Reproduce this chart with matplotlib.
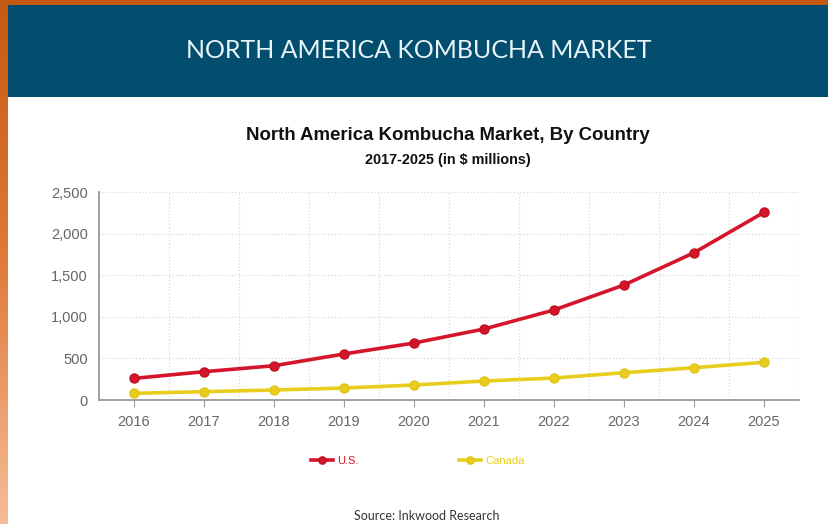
import numpy as np
import matplotlib.pyplot as plt
from matplotlib.ticker import FuncFormatter, MultipleLocator
from matplotlib.colors import LinearSegmentedColormap

years = [2016, 2017, 2018, 2019, 2020, 2021, 2022, 2023, 2024, 2025]
us = [260, 340, 412, 553, 685, 853, 1082, 1382, 1770, 2256]
canada = [80, 100, 120, 144, 180, 228, 264, 328, 388, 453]

W, H = 829, 524
fig = plt.figure(figsize=(W / 100, H / 100), dpi=100)
fig.patch.set_facecolor('white')

# orange frame: strip on top, gradient down the left edge
top = fig.add_axes([0, 1 - 5 / H, 1, 5 / H])
top.set_axis_off()
top.add_patch(plt.Rectangle((0, 0), 1, 1, color='#c45a12', transform=top.transAxes))

side = fig.add_axes([0, 0, 8 / W, 1])
grad = np.linspace(0, 1, 256).reshape(-1, 1)
cm = LinearSegmentedColormap.from_list('edge', ['#f6bd98', '#e07a3a', '#c45a12'])
side.imshow(grad, aspect='auto', cmap=cm, origin='lower', extent=[0, 1, 0, 1])
side.set_axis_off()

# blue banner
ban = fig.add_axes([8 / W, 1 - 97 / H, 1 - 8 / W, 92 / H])
ban.set_xlim(0, 1)
ban.set_ylim(0, 1)
ban.add_patch(plt.Rectangle((0, 0), 1, 1, color='#034d6f'))
ban.set_axis_off()
ban.text(0.5, 0.5, 'NORTH AMERICA KOMBUCHA MARKET', color='#e8f4f8',
         fontsize=18, family='Lato', ha='center', va='center')

# chart
ax = fig.add_axes([99 / W, 1 - 400 / H, 700 / W, 208 / H])
ax.plot(years, us, color='#d5152b', lw=2.6, marker='o', ms=6.5,
        mec='#c0101f', label='U.S.', zorder=3)
ax.plot(years, canada, color='#e8cd1f', lw=2.6, marker='o', ms=6.5,
        mec='#e2c418', label='Canada', zorder=3)

ax.set_xlim(2015.5, 2025.5)
ax.set_ylim(0, 2500)
ax.set_xticks(years)
ax.set_xticks(np.arange(2016.5, 2025.6, 1), minor=True)
ax.yaxis.set_major_locator(MultipleLocator(500))
ax.yaxis.set_major_formatter(FuncFormatter(lambda v, p: f'{int(v):,}'))
ax.grid(which='minor', axis='x', color='#d9d9d9', ls=':', lw=0.9)
ax.grid(which='major', axis='y', color='#d9d9d9', ls=':', lw=0.9)
ax.tick_params(which='minor', length=0)
ax.tick_params(which='major', length=5, color='#999999', labelcolor='#666666',
               labelsize=10.5, pad=6)
ax.tick_params(axis='y', length=0, pad=8)
for lbl in ax.get_xticklabels() + ax.get_yticklabels():
    lbl.set_family('Liberation Sans')
for s in ['top', 'right']:
    ax.spines[s].set_visible(False)
for s in ['left', 'bottom']:
    ax.spines[s].set_color('#999999')
    ax.spines[s].set_linewidth(1.3)

fig.text(448 / W, 1 - 135 / H, 'North America Kombucha Market, By Country',
         fontsize=13.4, fontweight='bold', family='Liberation Sans',
         ha='center', va='center', color='#111111')
fig.text(448 / W, 1 - 160 / H, '2017-2025 (in $ millions)',
         fontsize=10.4, fontweight='bold', family='Liberation Sans',
         ha='center', va='center', color='#111111')

fig.legend(loc='center', bbox_to_anchor=(418 / W, 1 - 461 / H), ncol=2,
           frameon=False, columnspacing=9, handlelength=2, handletextpad=0.4,
           markerscale=0.8, labelcolor='linecolor',
           prop={'family': 'Liberation Sans', 'size': 8})

fig.text(427 / W, 1 - 516 / H, 'Source: Inkwood Research', fontsize=9,
         family='Lato', ha='center', va='center', color='#333333')

fig.savefig('out.png', dpi=100)
